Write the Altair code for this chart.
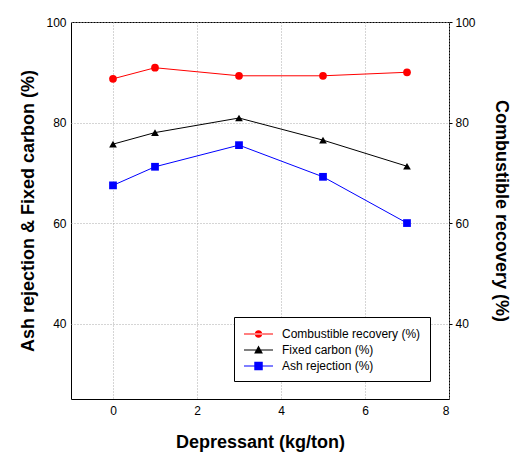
import altair as alt
import pandas as pd

dosage = [0, 1, 3, 5, 7]
combustible = [88.7, 90.9, 89.3, 89.3, 90.0]
fixed_carbon = [75.7, 78.0, 80.9, 76.5, 71.3]
ash_rejection = [67.5, 71.2, 75.5, 69.2, 60.0]

series_names = ["Combustible recovery (%)", "Fixed carbon (%)", "Ash rejection (%)"]
series_colors = ["#ff0000", "#000000", "#0000ff"]
marker_shapes = ["circle", "triangle-up", "square"]

rows = []
for name, vals in zip(series_names, [combustible, fixed_carbon, ash_rejection]):
    for x, v in zip(dosage, vals):
        rows.append({"x": x, "y": v, "series": name})
df = pd.DataFrame(rows)

legend_line = "M-0.875,-0.0625H2.75V0.0625H-0.875Z"
legend_paths = [
    legend_line + "M0.47,0A0.47,0.47 0 1,0 1.41,0A0.47,0.47 0 1,0 0.47,0Z",
    legend_line + "M0.94,-0.55L1.49,0.45L0.39,0.45Z",
    legend_line + "M0.41,-0.53H1.47V0.53H0.41Z",
]

grid_dash = [1, 2]
grid_color = "#aaaaaa"

xs = alt.X("x:Q", scale=alt.Scale(domain=[-1, 8], nice=False, zero=False),
           axis=alt.Axis(values=[0, 2, 4, 6, 8], title="Depressant (kg/ton)",
                         grid=True, gridDash=grid_dash, gridColor=grid_color,
                         tickSize=0, labelPadding=6, titlePadding=17, domain=False))
ys = alt.Y("y:Q", scale=alt.Scale(domain=[25, 100], nice=False, zero=False),
           axis=alt.Axis(values=[40, 60, 80, 100], title="Ash rejection & Fixed carbon (%)",
                         grid=True, gridDash=grid_dash, gridColor=grid_color,
                         tickSize=0, labelPadding=5, titlePadding=8, domain=False))

color_scale = alt.Scale(domain=series_names, range=series_colors)

series_layers = []
for name, col, shp in zip(series_names, series_colors, marker_shapes):
    base = alt.Chart(df).transform_filter(alt.datum.series == name)
    series_layers.append(base.mark_line(strokeWidth=1, color=col).encode(x=xs, y=ys))
    series_layers.append(base.mark_point(filled=True, size=60, opacity=1, shape=shp, color=col)
                         .encode(x=xs, y=ys))

leg = alt.Legend(title=None, orient="none", legendX=163, legendY=295,
                 symbolOpacity=1, symbolStrokeWidth=0,
                 labelFont="Liberation Sans", labelFontSize=12, labelColor="black",
                 strokeColor="black", fillColor="white",
                 padding=9, labelOffset=23, rowPadding=2, symbolSize=256)

legend_layer = alt.Chart(df).mark_point(filled=True, opacity=0, size=256).encode(
    x=xs, y=ys,
    fill=alt.Fill("series:N", scale=color_scale, legend=leg),
    shape=alt.Shape("series:N", scale=alt.Scale(domain=series_names, range=legend_paths), legend=leg))

right = alt.Chart(df).mark_point(opacity=0).encode(
    x=xs,
    y=alt.Y("y:Q", scale=alt.Scale(domain=[25, 100], nice=False, zero=False),
            axis=alt.Axis(orient="right", values=[40, 60, 80, 100],
                          title="Combustible recovery (%)", grid=False,
                          tickSize=3, tickColor="black", labelPadding=3,
                          titlePadding=16, domain=False)))

left = alt.layer(*series_layers, legend_layer)
chart = alt.layer(left, right).resolve_scale(y="independent").properties(
    width=378, height=377,
    padding={"left": 63, "top": 14, "right": 62, "bottom": 58},
    autosize=alt.AutoSizeParams(type="none"),
).configure_view(stroke="black", strokeWidth=1).configure_axis(
    labelFont="Liberation Sans", labelFontSize=12, labelColor="black",
    titleFont="Liberation Sans", titleFontSize=18, titleFontWeight="bold", titleColor="black",
)

chart.save("out.html", embed_options={"renderer": "svg", "actions": False})
